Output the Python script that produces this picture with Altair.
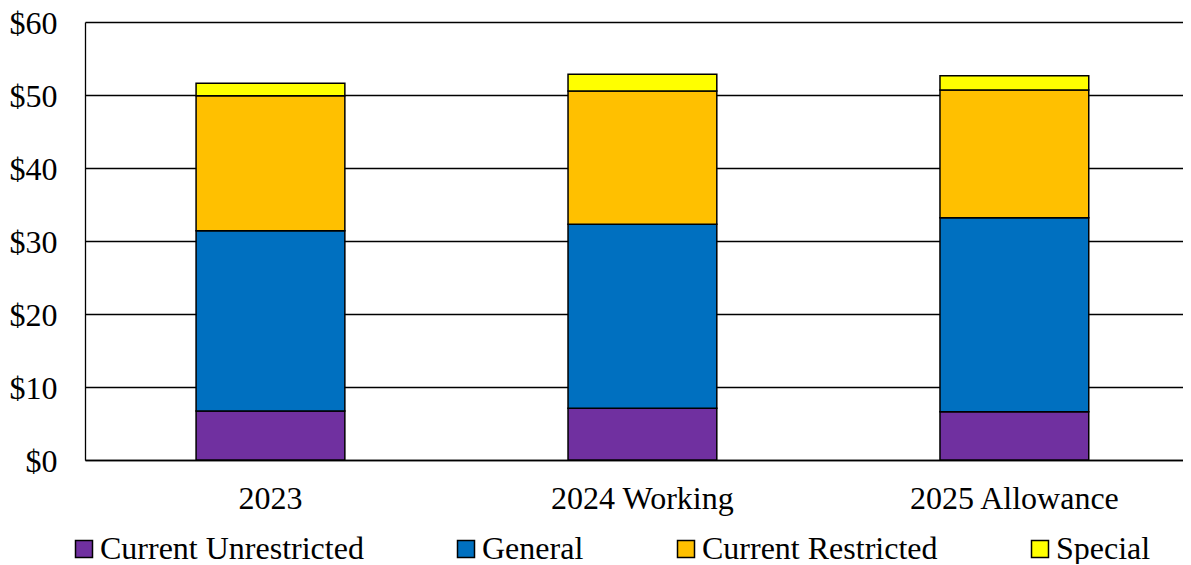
import altair as alt
import pandas as pd

years = ["2023", "2024 Working", "2025 Allowance"]
series = ["Current Unrestricted", "General", "Current Restricted", "Special"]
colors = ["#7030A0", "#0070C0", "#FFC000", "#FFFF00"]

current_unrestricted = [6.7, 7.1, 6.6]
general = [24.7, 25.2, 26.6]
current_restricted = [18.5, 18.25, 17.5]
special = [1.7, 2.3, 1.95]

y_ticks = [0, 10, 20, 30, 40, 50, 60]

values_by_series = [current_unrestricted, general, current_restricted, special]
rows = []
for si, (name, vals) in enumerate(zip(series, values_by_series)):
    for yi, yr in enumerate(years):
        rows.append({"year": yr, "series": name, "value": vals[yi], "idx": si})
df = pd.DataFrame(rows)

FONT = "'Liberation Serif', 'Times New Roman', Times, serif"

chart = alt.Chart(df).mark_bar(stroke="black", strokeWidth=1.5).encode(
    x=alt.X(
        "year:N",
        sort=years,
        scale=alt.Scale(paddingInner=0.6, paddingOuter=0.276, align=0.541),
        axis=alt.Axis(
            title=None, labelAngle=0, ticks=False, grid=False,
            domain=True, domainColor="black", domainWidth=1.3,
            labelFontSize=32, labelFont=FONT, labelColor="black",
            labelPadding=23, labelLimit=0,
        ),
    ),
    y=alt.Y(
        "value:Q",
        stack="zero",
        scale=alt.Scale(domain=[0, 60], nice=False),
        axis=alt.Axis(
            title=None, values=y_ticks, labelExpr="'$' + datum.value",
            ticks=False, grid=True, gridColor="black", gridWidth=1.3,
            domain=True, domainColor="black", domainWidth=1.3,
            labelFontSize=32, labelFont=FONT, labelColor="black",
            labelPadding=28, labelOffset=1, labelLimit=0,
        ),
    ),
    color=alt.Color(
        "series:N",
        sort=series,
        scale=alt.Scale(domain=series, range=colors),
        legend=alt.Legend(
            title=None, orient="none", legendX=-17, legendY=511,
            direction="horizontal", columns=4, columnPadding=86,
            gridAlign="each",
            symbolType="square", symbolSize=289,
            symbolStrokeColor="black", symbolStrokeWidth=1.5, symbolOpacity=1,
            labelFontSize=32, labelFont=FONT, labelColor="black",
            labelOffset=0, labelLimit=0, padding=0,
        ),
    ),
    order=alt.Order("idx:Q"),
).properties(
    width=1098,
    height=438,
    autosize=alt.AutoSizeParams(type="none"),
    padding={"left": 77, "top": 14, "right": 0, "bottom": 104},
).configure_view(stroke=None)

chart.save("out.html", embed_options={"renderer": "svg", "actions": False})
